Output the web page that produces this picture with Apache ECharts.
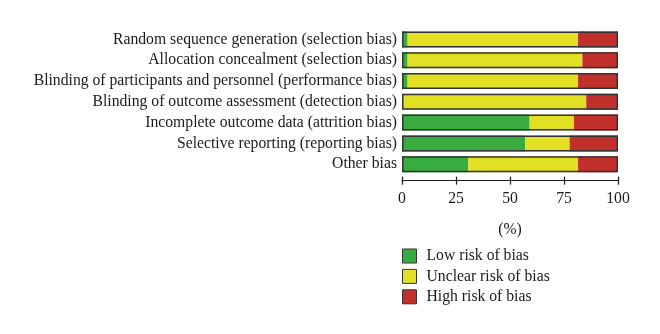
<!DOCTYPE html>
<html>
<head>
<meta charset="utf-8">
<script src="https://cdn.jsdelivr.net/npm/echarts@6/dist/echarts.min.js"></script>
<style>
  html, body { margin: 0; padding: 0; background: #fff; }
  #chart { width: 660px; height: 334px; }
</style>
</head>
<body>
<div id="chart"></div>
<script>
// Risk-of-bias domains, listed top to bottom
const domains = [
  'Random sequence generation (selection bias)',
  'Allocation concealment (selection bias)',
  'Blinding of participants and personnel (performance bias)',
  'Blinding of outcome assessment (detection bias)',
  'Incomplete outcome data (attrition bias)',
  'Selective reporting (reporting bias)',
  'Other bias'
];
// Percentage of studies per judgement, same order as domains
const lowRisk     = [2.6, 2.6, 2.6, 0.0, 59.1, 57.0, 30.7];
const unclearRisk = [78.9, 80.9, 78.9, 85.3, 20.5, 20.6, 50.8];
const highRisk    = [18.5, 16.5, 18.5, 14.7, 20.4, 22.4, 18.5];
const xTicks = [0, 25, 50, 75, 100];

const ink = '#1d1a1b';
const font = '"Liberation Serif", "DejaVu Serif", serif';
const fs = 15.7;
const colors = { low: '#3aab3e', unclear: '#e1e024', high: '#c2302b' };

// category axis runs bottom-up, so reverse to list the first domain on top
const cats = domains.slice().reverse();
const rev = a => a.slice().reverse();

const chart = echarts.init(document.getElementById('chart'), null, { renderer: 'canvas' });

const segment = (name, data, color) => ({
  name, type: 'bar', stack: 'rob', data: rev(data),
  barWidth: 16, itemStyle: { color }, emphasis: { disabled: true }
});

chart.setOption({
  animation: false,
  textStyle: { fontFamily: font },
  grid: { left: 402, right: 42, top: 29, height: 145.6 },
  xAxis: [{
    type: 'value', min: 0, max: 100, interval: 25, offset: 6,
    axisLine: { show: true, lineStyle: { color: ink, width: 1.2 } },
    axisTick: { show: true, length: 4, lineStyle: { color: ink, width: 1.2 } },
    axisLabel: { color: ink, fontSize: fs, fontFamily: font, margin: 10,
      formatter: v => xTicks.includes(v) ? String(v) : '' },
    splitLine: { show: false },
    name: '(%)', nameLocation: 'middle', nameGap: 41,
    nameTextStyle: { color: ink, fontSize: fs, fontFamily: font }
  }, {
    // upward half of the tick marks
    type: 'value', min: 0, max: 100, interval: 25, offset: 6, position: 'bottom',
    axisLine: { show: false },
    axisTick: { show: true, inside: true, length: 4, lineStyle: { color: ink, width: 1.2 } },
    axisLabel: { show: false }, splitLine: { show: false }
  }],
  yAxis: {
    type: 'category', data: cats,
    axisLine: { show: false }, axisTick: { show: false },
    axisLabel: { color: ink, fontSize: fs, fontFamily: font, margin: 5, interval: 0 }
  },
  legend: {
    orient: 'vertical', left: 402, top: 248, padding: 0,
    itemWidth: 14, itemHeight: 14, itemGap: 4.4,
    icon: 'rect',
    data: ['Low risk of bias', 'Unclear risk of bias', 'High risk of bias'],
    itemStyle: { borderColor: '#333', borderWidth: 1 },
    textStyle: { color: ink, fontSize: fs, fontFamily: font, lineHeight: 14, padding: [0, 0, 0, 5] },
    selectedMode: false
  },
  series: [
    segment('Low risk of bias', lowRisk, colors.low),
    segment('Unclear risk of bias', unclearRisk, colors.unclear),
    segment('High risk of bias', highRisk, colors.high),
    {
      // outline around each full bar
      name: 'outline', type: 'bar', barWidth: 16, barGap: '-100%',
      data: cats.map((c, i) => rev(lowRisk)[i] + rev(unclearRisk)[i] + rev(highRisk)[i]),
      itemStyle: { color: 'rgba(0,0,0,0)', borderColor: '#333', borderWidth: 1.5 },
      emphasis: { disabled: true }, silent: true, z: 3
    }
  ]
});
</script>
</body>
</html>
